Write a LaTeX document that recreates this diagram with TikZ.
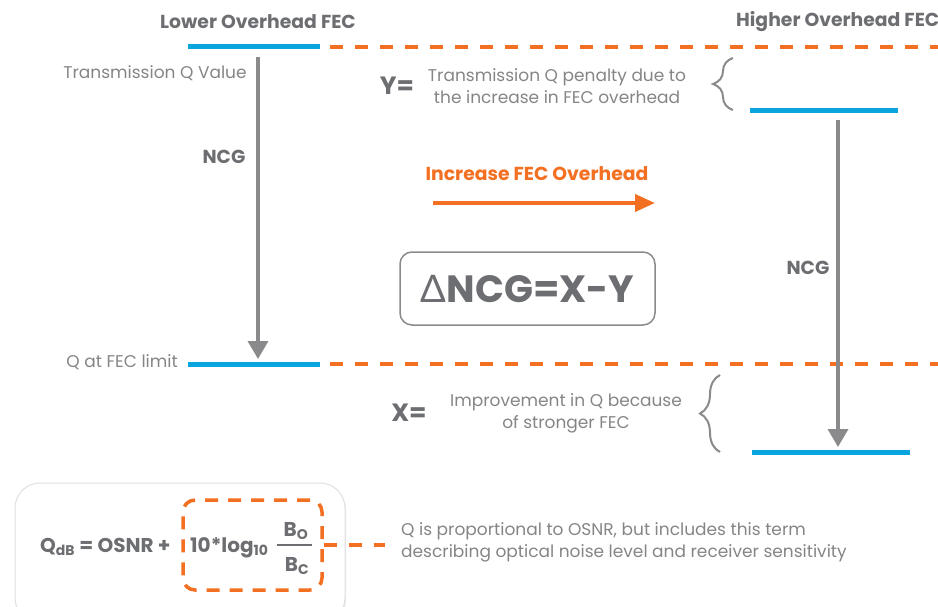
\documentclass[tikz,border=0pt]{standalone}
\usepackage{fontspec}
\setmainfont{Poppins}
\newfontfamily\deltafont{Lato}
\usetikzlibrary{arrows.meta,decorations.pathreplacing,shadows}
\definecolor{txtgrey}{HTML}{858585}
\definecolor{boldgrey}{HTML}{6D6E71}
\definecolor{linegrey}{HTML}{8A8A8C}
\definecolor{fecblue}{HTML}{0AA5DE}
\definecolor{fecorange}{HTML}{F36F21}
\tikzset{
  level/.style={draw=fecblue,line width=5pt},
  limit/.style={draw=fecorange,line width=3.5pt,dash pattern=on 13pt off 12pt},
  ncgarrow/.style={draw=linegrey,line width=3.5pt,-{Triangle[width=20pt,length=18pt]}},
  body/.style={text=txtgrey,font=\fontsize{17}{22}\selectfont,inner sep=0pt},
  label/.style={text=boldgrey,font=\fontsize{18.8}{22}\selectfont\bfseries,inner sep=0pt},
  bigeq/.style={text=boldgrey,font=\fontsize{25}{28}\selectfont\bfseries,inner sep=0pt},
  bracegrey/.style={draw=linegrey,line width=2pt,decorate,decoration={brace,amplitude=20pt}},
  formula/.style={text=boldgrey,font=\fontsize{20}{24}\selectfont\bfseries,inner sep=0pt},
}
\begin{document}
\begin{tikzpicture}[x=1pt,y=-1pt]
\useasboundingbox (0,0) rectangle (938,607);
% level lines
\coordinate (l1a) at (188,47); \coordinate (l1b) at (320,47);
\coordinate (l2a) at (188,364); \coordinate (l2b) at (320,364);
\coordinate (r1a) at (750,111); \coordinate (r1b) at (898,111);
\coordinate (r2a) at (752,452); \coordinate (r2b) at (910,452);
\coordinate (d1a) at (330,47); \coordinate (d1b) at (945,47);
\coordinate (d2a) at (330,364); \coordinate (d2b) at (945,364);
\draw[limit] (d1a) -- (d1b);
\draw[limit] (d2a) -- (d2b);
\draw[level] (l1a) -- (l1b);
\draw[level] (l2a) -- (l2b);
\draw[level] (r1a) -- (r1b);
\draw[level] (r2a) -- (r2b);
% arrows
\coordinate (la1) at (258,57); \coordinate (la2) at (258,359);
\coordinate (ra1) at (838,120); \coordinate (ra2) at (838,447);
\draw[ncgarrow] (la1) -- (la2);
\draw[ncgarrow] (ra1) -- (ra2);
% titles
\node[label] (tlow) at (258,22) {Lower Overhead FEC};
\node[label,anchor=west] (thigh) at (736,22) {Higher Overhead FEC};
\node[body] (tq) at (155,73) {Transmission Q Value};
\node[label] (ncg1) at (224,157) {NCG};
\node[body,anchor=east] (qlim) at (178,362) {Q at FEC limit};
\node[label] (ncg2) at (808,268) {NCG};
% Y
\node[bigeq] (yeq) at (397,86) {Y=};
\node[body,align=center] (ytxt) at (557,86) {Transmission Q penalty due to\\the increase in FEC overhead};
\coordinate (yb1) at (733,110); \coordinate (yb2) at (733,58);
\draw[bracegrey] (yb1) -- (yb2);
% X
\node[bigeq] (xeq) at (409,413) {X=};
\node[body,align=center] (xtxt) at (566,413) {Improvement in Q because\\of stronger FEC};
\coordinate (xb1) at (720,452); \coordinate (xb2) at (720,375);
\draw[bracegrey] (xb1) -- (xb2);
% increase
\node[label,text=fecorange] (inc) at (537,174) {Increase FEC Overhead};
\coordinate (ia) at (433,203); \coordinate (ib) at (655,203);
\draw[draw=fecorange,line width=4pt,-{Triangle[width=17pt,length=20pt]}] (ia) -- (ib);
% delta box
\node[draw=linegrey,line width=1.5pt,rounded corners=12pt,minimum width=255pt,minimum height=73pt,
      text=boldgrey,font=\fontsize{38}{42}\selectfont\bfseries] (delta) at (527.5,288.5) {{\deltafont\mdseries Δ}NCG=X-Y};
% formula box
\node[draw=black!12,line width=1pt,fill=white,rounded corners=25pt,minimum width=330pt,minimum height=140pt,
      drop shadow={opacity=0.18,shadow xshift=1pt,shadow yshift=-2pt}] (fbox) at (180,553) {};
\node[formula,anchor=base west] (fq) at (40,552) {Q\textsubscript{dB} = OSNR +};
\node[formula,anchor=base west] (flog) at (190,552) {10*log\textsubscript{10}};
\coordinate (fr1) at (277,545); \coordinate (fr2) at (312,545);
\draw[draw=boldgrey,line width=1.2pt] (fr1) -- (fr2);
\node[formula,anchor=base] (bo) at (296,536) {B\textsubscript{O}};
\node[formula,anchor=base] (bc) at (297,571) {B\textsubscript{C}};
\node[draw=fecorange,line width=3.5pt,dash pattern=on 13pt off 10pt,rounded corners=12pt,
      minimum width=139pt,minimum height=90pt] (dbox) at (252.5,545) {};
\node[body,anchor=west,align=left] (note) at (401,542) {Q is proportional to OSNR, but includes this term\\describing optical noise level and receiver sensitivity};
\coordinate (dend) at (385,545);
\draw[limit] (dbox.east) -- (dend);
\end{tikzpicture}
\end{document}
